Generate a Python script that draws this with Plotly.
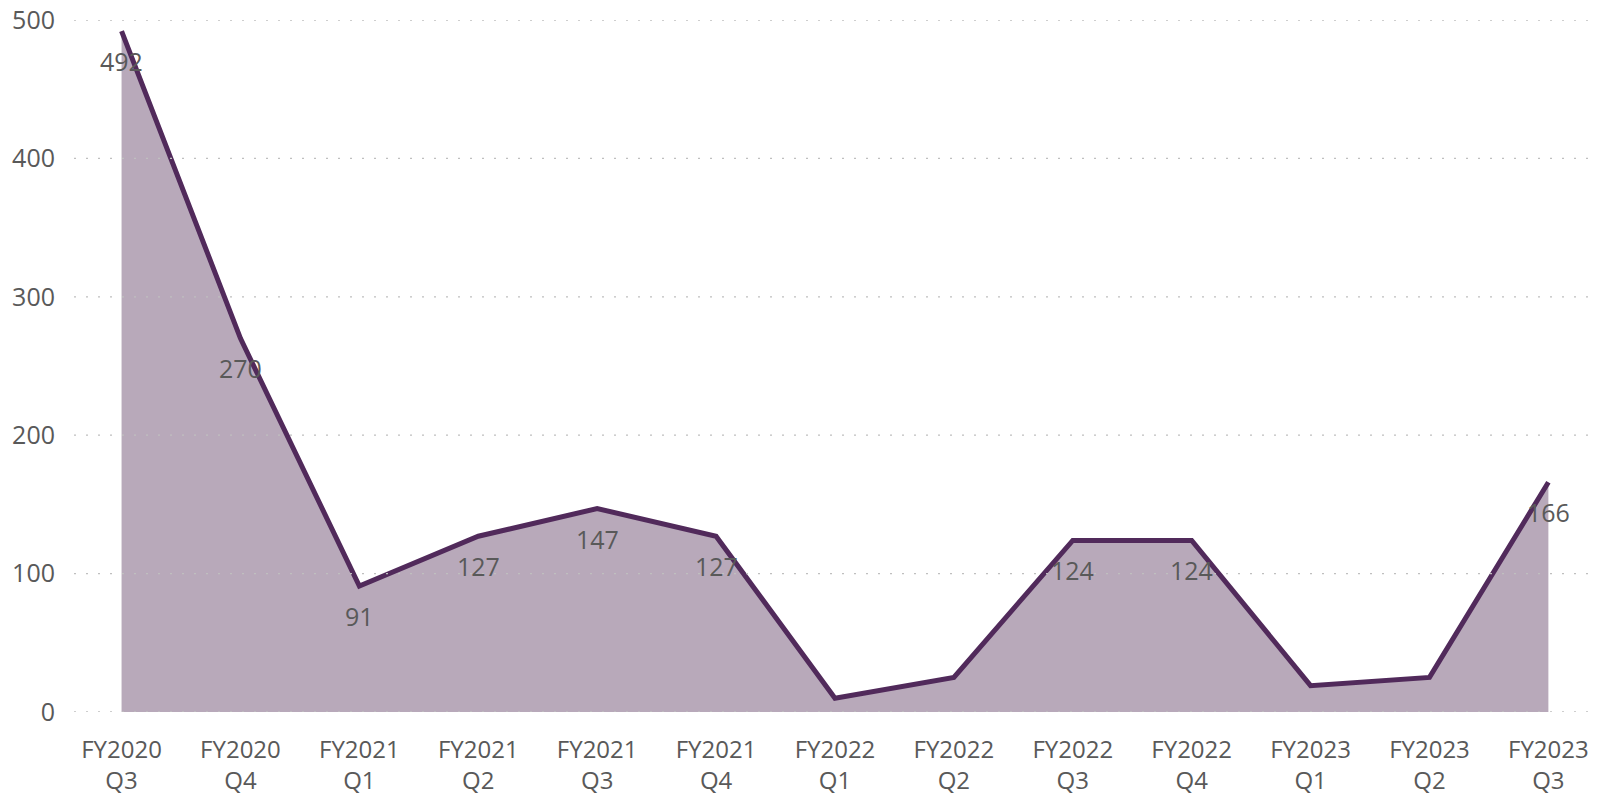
import plotly.graph_objects as go

categories = ["FY2020<br>Q3", "FY2020<br>Q4", "FY2021<br>Q1", "FY2021<br>Q2", "FY2021<br>Q3",
              "FY2021<br>Q4", "FY2022<br>Q1", "FY2022<br>Q2", "FY2022<br>Q3", "FY2022<br>Q4",
              "FY2023<br>Q1", "FY2023<br>Q2", "FY2023<br>Q3"]
values = [492, 270, 91, 127, 147, 127, 10, 25, 124, 124, 19, 25, 166]
labels = ["492", "270", "91", "127", "147", "127", "", "", "124", "124", "", "", "166"]
y_ticks = [0, 100, 200, 300, 400, 500]

xs = list(range(len(categories)))

FONT = "Open Sans"
GRAY = "#595959"

fig = go.Figure()
fig.add_trace(go.Scatter(
    x=xs, y=values, mode="lines",
    line=dict(color="#512A5B", width=5),
    fill="tozeroy", fillcolor="#B8A9BA",
    hoverinfo="skip", showlegend=False, cliponaxis=False,
))

for x, v, t in zip(xs, values, labels):
    if t:
        fig.add_annotation(x=x, y=v, text=t, showarrow=False, yshift=-30,
                           font=dict(family=FONT, size=25, color=GRAY))

for yv in y_ticks:
    fig.add_shape(type="line", xref="paper", x0=0, x1=1, yref="y", y0=yv, y1=yv,
                  line=dict(color="#BFBFBF", width=1.3, dash="2px,10px"), layer="above")

fig.update_layout(
    width=1597, height=788,
    margin=dict(l=66, r=15, t=12, b=84),
    paper_bgcolor="white", plot_bgcolor="white",
    font=dict(family=FONT, size=22, color=GRAY),
    xaxis=dict(
        range=[-0.4, 12.35],
        tickmode="array", tickvals=xs, ticktext=categories,
        showgrid=False, zeroline=False, showline=False,
        ticks="", ticklabelstandoff=21, automargin=False,
        tickfont=dict(family=FONT, size=24, color=GRAY),
    ),
    yaxis=dict(
        range=[0, 500],
        tickmode="array", tickvals=y_ticks,
        showgrid=False, zeroline=False, showline=False,
        ticks="", ticklabelstandoff=18, automargin=False,
        ticklabeloverflow="allow",
        tickfont=dict(family=FONT, size=25, color=GRAY),
    ),
)

fig.write_html("out.html")
